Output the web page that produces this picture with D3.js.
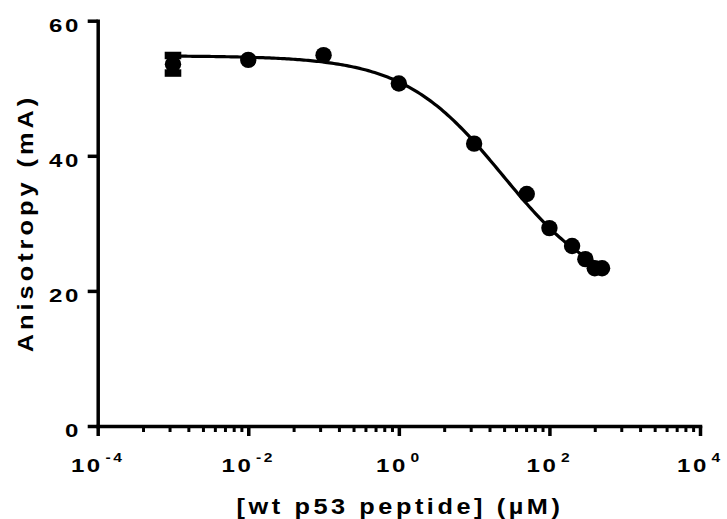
<!DOCTYPE html>
<html>
<head>
<meta charset="utf-8">
<script src="https://cdn.jsdelivr.net/npm/d3@7"></script>
<style>
  html, body { margin: 0; padding: 0; background: #fff; }
  svg { display: block; }
  text { font-family: "Liberation Sans", Arial, Helvetica, sans-serif; font-weight: bold; fill: #000; }
</style>
</head>
<body>
<svg id="chart" width="727" height="519"></svg>
<script>
// Binding measurements: peptide concentration (µM), mean anisotropy (mA), SD
const concentration = [0.001, 0.01, 0.1, 1, 10, 50, 100, 200, 300, 400, 500];
const anisotropy    = [53.55, 54.2, 54.9, 50.7, 41.8, 34.35, 29.3, 26.65, 24.7, 23.35, 23.35];
const errorSD       = [1.3, 0, 0, 0, 0, 0, 0, 0, 0, 0, 0];

// Four-parameter logistic (log inhibitor vs. response) fit
const fitTop = 54.8;
const fitBottom = 19.4;
const fitLogIC50 = 1.38;
const fitHill = -0.66;
const fitRange = [0.001, 500];

// Axis ticks
const xMajorExponents = [-4, -2, 0, 2, 4];
const xMinorMultipliers = [4, 9, 16, 25, 36, 49, 64, 81];
const yTicks = [0, 20, 40, 60];
const xTitle = "[wt p53 peptide] (\u00b5M)";
const yTitle = "Anisotropy (mA)";

const svg = d3.select("#chart");
const AXIS_W = 3.5;
const STRETCH = 1.3;

const x = d3.scaleLog().domain([1e-4, 1e4]).range([97.7, 700]);
const y = d3.scaleLinear().domain([0, 60]).range([426, 20.7]);

// ---- axes ----
function styleAxis(g) {
  g.select(".domain").attr("stroke", "#000").attr("stroke-width", AXIS_W).attr("stroke-linecap", "square");
  g.selectAll(".tick line").attr("stroke", "#000").attr("stroke-width", AXIS_W);
  g.selectAll(".tick text").remove();
}

const minorVals = [];
xMajorExponents.slice(0, -1).forEach(e => {
  xMinorMultipliers.forEach(k => minorVals.push(Math.pow(10, e) * k));
});

svg.append("g")
  .attr("transform", `translate(0,${y(0)})`)
  .call(d3.axisBottom(x).tickValues(minorVals).tickSize(6).tickSizeOuter(0).tickFormat(""))
  .call(g => { styleAxis(g); g.select(".domain").remove(); g.selectAll(".tick line").attr("stroke-width", 3); });

svg.append("g")
  .attr("transform", `translate(0,${y(0)})`)
  .call(d3.axisBottom(x).tickValues(xMajorExponents.map(e => Math.pow(10, e))).tickSize(10).tickSizeOuter(0))
  .call(styleAxis);

svg.append("g")
  .attr("transform", `translate(${x(1e-4)},0)`)
  .call(d3.axisLeft(y).tickValues(yTicks).tickSize(10).tickSizeOuter(0))
  .call(styleAxis);

// x tick labels: 10 with superscript exponent
xMajorExponents.forEach(e => {
  const t = svg.append("text")
    .attr("transform", `translate(${x(Math.pow(10, e))},472) scale(${STRETCH},1)`)
    .attr("text-anchor", "middle")
    .style("letter-spacing", "2px")
    .style("font-size", "18.5px");
  t.append("tspan").text("10");
  t.append("tspan").attr("dx", 2).attr("dy", -10).style("font-size", "12px").text(String(e));
});

// y tick labels
yTicks.forEach(v => {
  svg.append("text")
    .attr("transform", `translate(81,${y(v) + 11}) scale(${STRETCH},1)`)
    .attr("text-anchor", "end")
    .style("letter-spacing", "2px")
    .style("font-size", "18.5px")
    .text(v);
});

// axis titles
svg.append("text")
  .attr("transform", `translate(400,514) scale(1.15,1)`)
  .attr("text-anchor", "middle")
  .style("font-size", "22px")
  .style("letter-spacing", "3.1px")
  .text(xTitle);

svg.append("text")
  .attr("transform", `translate(33,223) rotate(-90) scale(1.15,1)`)
  .attr("text-anchor", "middle")
  .style("font-size", "22px")
  .style("letter-spacing", "3.5px")
  .text(yTitle);

// ---- fitted curve ----
const logistic = c => fitBottom + (fitTop - fitBottom) / (1 + Math.pow(10, (fitLogIC50 - Math.log10(c)) * fitHill));
const lo = Math.log10(fitRange[0]), hi = Math.log10(fitRange[1]);
const curvePts = d3.range(0, 201).map(i => {
  const c = Math.pow(10, lo + (hi - lo) * i / 200);
  return [c, logistic(c)];
});
svg.append("path")
  .datum(curvePts)
  .attr("fill", "none")
  .attr("stroke", "#000")
  .attr("stroke-width", 3.2)
  .attr("d", d3.line().x(d => x(d[0])).y(d => y(d[1])));

// ---- error bars and points ----
const data = concentration.map((c, i) => ({ c, v: anisotropy[i], sd: errorSD[i] }));
const eb = svg.append("g").selectAll("g").data(data.filter(d => d.sd > 0)).join("g");
eb.append("line")
  .attr("x1", d => x(d.c)).attr("x2", d => x(d.c))
  .attr("y1", d => y(d.v + d.sd)).attr("y2", d => y(d.v - d.sd))
  .attr("stroke", "#000").attr("stroke-width", 3.5);
[1, -1].forEach(s => {
  eb.append("line")
    .attr("x1", d => x(d.c) - 8.3).attr("x2", d => x(d.c) + 8.3)
    .attr("y1", d => y(d.v + s * d.sd)).attr("y2", d => y(d.v + s * d.sd))
    .attr("stroke", "#000").attr("stroke-width", 7.5);
});

svg.append("g").selectAll("circle").data(data).join("circle")
  .attr("cx", d => x(d.c))
  .attr("cy", d => y(d.v))
  .attr("r", 8.2)
  .attr("fill", "#000");
</script>
</body>
</html>
